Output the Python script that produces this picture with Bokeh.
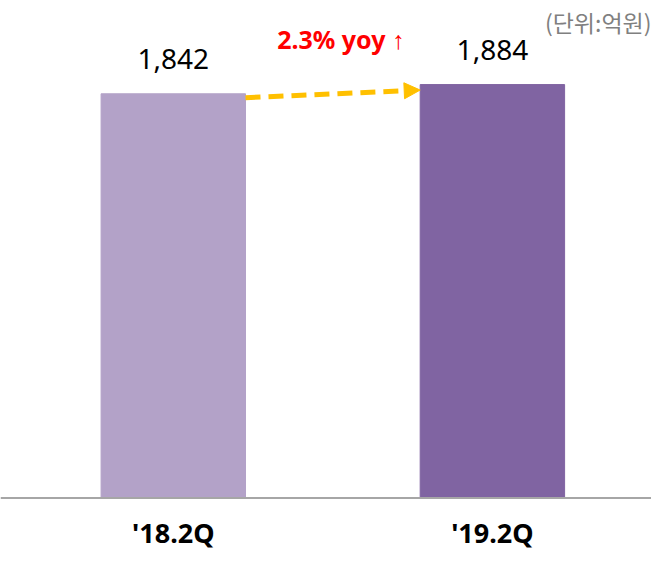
from bokeh.plotting import figure
from bokeh.models import Range1d, Arrow, NormalHead, Label, Span, ColumnDataSource
from bokeh.core.properties import value
from bokeh.embed import file_html
from bokeh.resources import INLINE

# ---- data ----
categories = ["'18.2Q", "'19.2Q"]
revenue = [1842, 1884]
value_labels = ["1,842", "1,884"]
bar_colors = ["#B3A2C8", "#8064A2"]
unit_text = "(단위:억원)"

positions = list(range(len(categories)))
growth = (revenue[1] - revenue[0]) / revenue[0] * 100
yoy_text = f"{growth:.1f}% yoy \u2191"

BAR_W = 0.4526
PX_PER_UNIT = 0.21944  # vertical px per data unit
BASE_PX = 497.5        # baseline position from top of figure
H = 549

p = figure(width=651, height=H, output_backend="svg", toolbar_location=None,
           x_range=Range1d(-0.5415, 1.4986),
           y_range=Range1d(-(H - BASE_PX) / PX_PER_UNIT, BASE_PX / PX_PER_UNIT),
           min_border=0)
p.outline_line_color = None
p.xgrid.visible = False
p.ygrid.visible = False
p.xaxis.visible = False
p.yaxis.visible = False
p.background_fill_color = "white"
p.border_fill_color = "white"

src = ColumnDataSource(dict(x=positions, top=revenue, color=bar_colors,
                            label=value_labels, cat=categories, base=[0] * len(revenue)))
p.vbar(x="x", top="top", width=BAR_W, color="color", source=src)

# baseline
p.add_layout(Span(location=0, dimension="width", line_color="#A6A6A6", line_width=2))

# value labels
p.text(x="x", y="top", text="label", source=src, y_offset=-35,
       text_align="center", text_baseline="middle",
       text_font=value("Noto Sans"), text_font_size="28px", text_color="black")

# category labels
p.text(x="x", y="base", text="cat", source=src, y_offset=34,
       text_align="center", text_baseline="middle",
       text_font=value("Noto Sans"), text_font_style="bold",
       text_font_size="27px", text_color="black")

# dashed growth arrow
p.add_layout(Arrow(x_start=positions[0] + BAR_W / 2, y_start=revenue[0] - 18,
                   x_end=positions[1] - BAR_W / 2, y_end=revenue[1] - 25,
                   line_color="#FFC000", line_width=5, line_dash="15 8",
                   end=NormalHead(size=16, fill_color="#FFC000", line_color="#FFC000", line_width=1)))

p.add_layout(Label(x=0.525, y=2090, text=yoy_text,
                   text_align="center", text_baseline="middle",
                   text_font="Noto Sans", text_font_style="bold",
                   text_font_size="25px", text_color="#FF0000"))

p.add_layout(Label(x=1.4986, y=(BASE_PX - 21) / PX_PER_UNIT, text=unit_text,
                   text_align="right", text_baseline="middle",
                   text_font="Noto Sans CJK KR", text_font_size="23px", text_color="#808080"))

open("out.html", "w").write(file_html(p, INLINE))
